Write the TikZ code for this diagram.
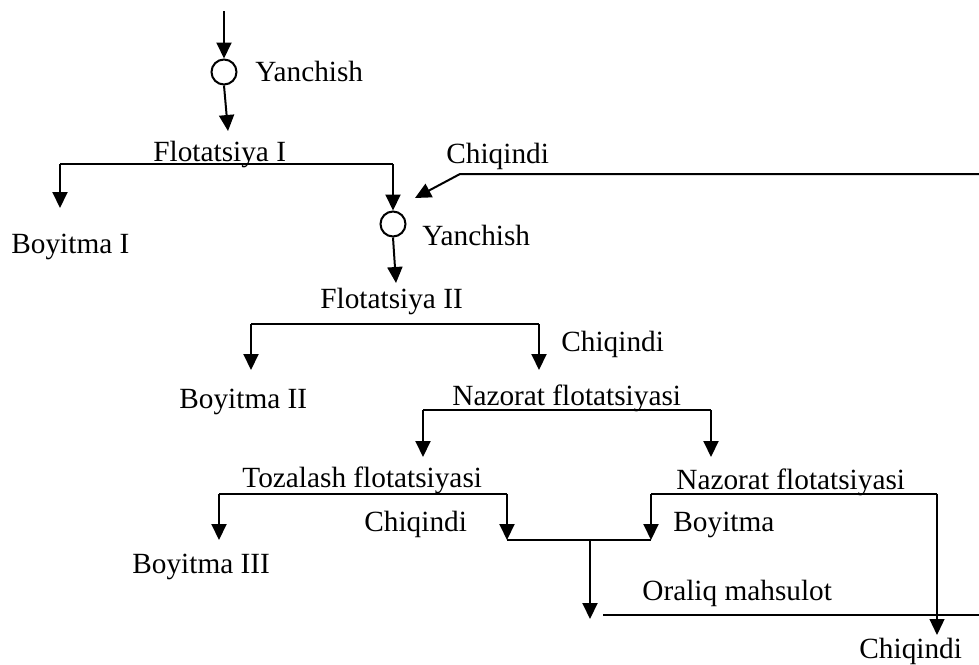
\documentclass[tikz,border=0pt]{standalone}
\usepackage{fontspec}
\setmainfont{Liberation Serif}
\usetikzlibrary{arrows.meta}
\begin{document}
\begin{tikzpicture}[x=0.5pt,y=-0.5pt,
  lbl/.style={anchor=base west,inner sep=0pt,font=\fontsize{14.65}{17}\selectfont},
  flow/.style={line width=1pt},
  thinflow/.style={line width=0.65pt},
  thickflow/.style={line width=1.3pt},
  arr/.style={-{Triangle[length=8pt,width=7.5pt]}},
  junc/.style={circle,draw,line width=1pt,minimum size=12.5pt,inner sep=0pt}]
\useasboundingbox (0,0) rectangle (979,664);
% junctions
\node[junc] (c1) at (224,72) {};
\node[junc] (c2) at (393,224) {};
% labels
\node[lbl] (y1) at (255,81) {Yanchish};
\node[lbl] (f1) at (153,161) {Flotatsiya I};
\node[lbl] (ch1) at (446,163) {Chiqindi};
\node[lbl] (b1) at (11,253) {Boyitma I};
\node[lbl] (y2) at (422,245) {Yanchish};
\node[lbl] (f2) at (320,308) {Flotatsiya II};
\node[lbl] (ch2) at (561,351) {Chiqindi};
\node[lbl] (b2) at (179,408) {Boyitma II};
\node[lbl] (n1) at (452,405) {Nazorat flotatsiyasi};
\node[lbl] (t1) at (242,487) {Tozalash flotatsiyasi};
\node[lbl] (n2) at (676,489) {Nazorat flotatsiyasi};
\node[lbl] (ch3) at (364,531) {Chiqindi};
\node[lbl] (bb) at (673,531) {Boyitma};
\node[lbl] (b3) at (132,573) {Boyitma III};
\node[lbl] (om) at (642,600) {Oraliq mahsulot};
\node[lbl] (ch4) at (859,658) {Chiqindi};
% coordinates
\coordinate (in) at (224,11);
\coordinate (a1) at (228,131);
\coordinate (h1l) at (60,164);
\coordinate (h1r) at (393,164);
\coordinate (b1t) at (60,208);
\coordinate (rin) at (979,174);
\coordinate (rk) at (460,174);
\coordinate (rt) at (415,198);
\coordinate (a2) at (396,283);
\coordinate (h2l) at (251,324);
\coordinate (h2r) at (539,324);
\coordinate (h2lt) at (251,370);
\coordinate (h2rt) at (539,370);
\coordinate (h3l) at (423,410);
\coordinate (h3r) at (711,410);
\coordinate (h3lt) at (423,457);
\coordinate (h3rt) at (711,457);
\coordinate (h4l) at (219,493.5);
\coordinate (h4r) at (507,493.5);
\coordinate (h4lt) at (219,540);
\coordinate (h4rt) at (507,540);
\coordinate (h5l) at (651,493.5);
\coordinate (h5r) at (937,493.5);
\coordinate (h5lt) at (651,540);
\coordinate (h5rt) at (937,635);
\coordinate (m) at (590,540);
\coordinate (mt) at (590,619);
\coordinate (oml) at (603,615);
\coordinate (omr) at (979,615);
% connectors
\draw[flow,arr] (in) -- (c1.north);
\draw[flow,arr] (c1.south) -- (a1);
\draw[flow] (h1l) -- (h1r);
\draw[flow,arr] (h1l) -- (b1t);
\draw[flow,arr] (h1r) -- (c2.north);
\draw[flow,arr] (rin) -- (rk) -- (rt);
\draw[flow,arr] (c2.south) -- (a2);
\draw[flow] (h2l) -- (h2r);
\draw[flow,arr] (h2l) -- (h2lt);
\draw[flow,arr] (h2r) -- (h2rt);
\draw[flow] (h3l) -- (h3r);
\draw[flow,arr] (h3l) -- (h3lt);
\draw[flow,arr] (h3r) -- (h3rt);
\draw[flow] (h4l) -- (h4r);
\draw[flow,arr] (h4l) -- (h4lt);
\draw[flow,arr] (h4r) -- (h4rt);
\draw[flow] (h5l) -- (h5r);
\draw[flow,arr] (h5l) -- (h5lt);
\draw[thinflow,arr] (h5r) -- (h5rt);
\draw[flow] (h4rt) -- (h5lt);
\draw[flow,arr] (m) -- (mt);
\draw[thickflow] (oml) -- (omr);
\end{tikzpicture}
\end{document}
